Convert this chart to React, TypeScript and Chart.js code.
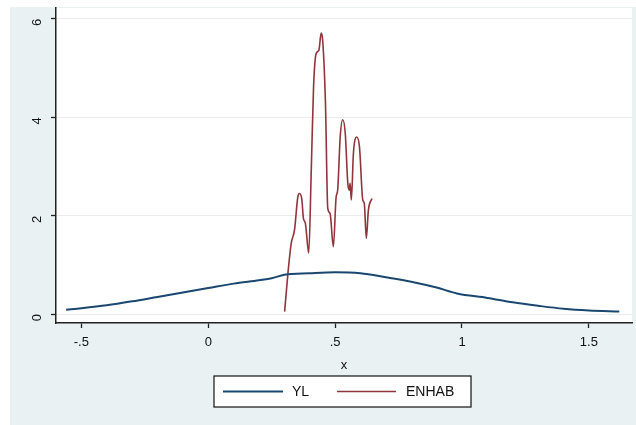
import React, { useEffect, useRef } from "react";
import { Chart, registerables } from "chart.js";

Chart.register(...registerables);

const ylX = [-0.56, -0.5, -0.4, -0.3, -0.2, -0.1, 0, 0.1, 0.2, 0.25, 0.3, 0.4, 0.5, 0.6, 0.7, 0.8, 0.9, 0.98, 1.1, 1.2, 1.3, 1.4, 1.5, 1.62];
const ylY = [0.09, 0.12, 0.18, 0.26, 0.35, 0.44, 0.53, 0.62, 0.69, 0.73, 0.8, 0.83, 0.85, 0.83, 0.75, 0.66, 0.54, 0.42, 0.33, 0.24, 0.17, 0.11, 0.075, 0.055];

const enhabX = [0.301, 0.314, 0.327, 0.34, 0.353, 0.36, 0.369, 0.375, 0.383, 0.396, 0.406, 0.415, 0.425, 0.436, 0.445, 0.451, 0.462, 0.471, 0.48, 0.493, 0.504, 0.51, 0.52, 0.53, 0.54, 0.55, 0.556, 0.559, 0.564, 0.572, 0.585, 0.596, 0.609, 0.615, 0.623, 0.631, 0.645];
const enhabY = [0.05, 0.83, 1.44, 1.71, 2.38, 2.45, 2.32, 1.95, 1.84, 1.24, 2.93, 4.61, 5.29, 5.36, 5.71, 5.56, 4.28, 2.15, 2.05, 1.37, 2.38, 2.52, 3.6, 3.95, 3.67, 2.66, 2.52, 2.66, 2.32, 3.26, 3.6, 3.4, 2.32, 2.25, 1.54, 2.11, 2.35];

const seriesNames = ["YL", "ENHAB"];
const seriesColors = ["#1a476f", "#90353b"];
const xTicks = [-0.5, 0, 0.5, 1, 1.5];
const yTicks = [0, 2, 4, 6];

const fmt = (v: number) => {
  const s = String(v);
  if (s.startsWith("0.")) return s.slice(1);
  if (s.startsWith("-0.")) return "-" + s.slice(2);
  return s;
};

const FONT = "'Liberation Sans', Arial, sans-serif";
const BG = "#e9f1f3";

export default function App() {
  const ref = useRef<HTMLCanvasElement | null>(null);
  useEffect(() => {
    document.body.style.margin = "0";
    const bgPlugin = {
      id: "bgPlugin",
      beforeDraw(chart: any) {
        const { ctx, chartArea } = chart;
        ctx.save();
        ctx.fillStyle = "#ffffff";
        ctx.fillRect(0, 0, chart.width, chart.height);
        ctx.fillStyle = BG;
        ctx.fillRect(10, 7, chart.width - 10, chart.height - 7);
        ctx.fillStyle = "#ffffff";
        ctx.fillRect(chartArea.left, chartArea.top, chartArea.right - chartArea.left, chartArea.bottom - chartArea.top);
        ctx.restore();
      },
    };
    const legendPlugin = {
      id: "boxLegend",
      afterDraw(chart: any) {
        const { ctx } = chart;
        const bx = 214, by = 376, bw = 257, bh = 31;
        ctx.save();
        ctx.fillStyle = "#ffffff";
        ctx.fillRect(bx, by, bw, bh);
        ctx.strokeStyle = "#111";
        ctx.lineWidth = 1.2;
        ctx.strokeRect(bx, by, bw, bh);
        const items = [
          { x0: 223, x1: 283, tx: 292 },
          { x0: 337, x1: 396, tx: 406 },
        ];
        chart.data.datasets.forEach((ds: any, i: number) => {
          const it = items[i];
          const cy = by + bh / 2;
          ctx.strokeStyle = ds.borderColor;
          ctx.lineWidth = ds.borderWidth;
          ctx.beginPath();
          ctx.moveTo(it.x0, cy);
          ctx.lineTo(it.x1, cy);
          ctx.stroke();
          ctx.fillStyle = "#111";
          ctx.font = `14px ${FONT}`;
          ctx.textBaseline = "middle";
          ctx.textAlign = "left";
          ctx.fillText(ds.label, it.tx, cy + 1);
        });
        ctx.restore();
      },
    };
    const chart = new Chart(ref.current!, {
      type: "line",
      data: {
        datasets: [
          {
            label: seriesNames[0],
            data: ylX.map((x, i) => ({ x, y: ylY[i] })),
            borderColor: seriesColors[0],
            borderWidth: 2,
            pointRadius: 0,
            cubicInterpolationMode: "monotone",
            fill: false,
          },
          {
            label: seriesNames[1],
            data: enhabX.map((x, i) => ({ x, y: enhabY[i] })),
            borderColor: seriesColors[1],
            borderWidth: 1.6,
            pointRadius: 0,
            cubicInterpolationMode: "monotone",
            fill: false,
          },
        ],
      },
      options: {
        animation: false,
        responsive: false,
        layout: { padding: { top: 8, right: 4, left: 0, bottom: 0 } },
        plugins: { legend: { display: false }, tooltip: { enabled: false } },
        scales: {
          x: {
            type: "linear",
            min: -0.6,
            max: 1.67,
            afterBuildTicks: (s: any) => {
              s.ticks = xTicks.map((v) => ({ value: v }));
            },
            afterFit: (s: any) => {
              s.height = 102;
              s.paddingLeft = 0;
              s.paddingRight = 0;
            },
            ticks: {
              callback: (v: any) => fmt(Number(v)),
              color: "#111",
              font: { family: FONT, size: 13 },
              padding: 7,
              maxRotation: 0,
            },
            grid: { drawOnChartArea: false, tickLength: 5, tickColor: "#222", tickWidth: 1.3 },
            border: { color: "#222", width: 1.5 },
            title: { display: true, text: "x", color: "#111", font: { family: FONT, size: 13 }, padding: { top: 0, bottom: 52 } },
          },
          y: {
            type: "linear",
            min: -0.18,
            max: 6.22,
            afterBuildTicks: (s: any) => {
              s.ticks = yTicks.map((v) => ({ value: v }));
            },
            afterFit: (s: any) => {
              s.width = 56;
              s.paddingTop = 0;
              s.paddingBottom = 0;
            },
            ticks: {
              callback: (v: any) => fmt(Number(v)),
              color: "#111",
              font: { family: FONT, size: 13 },
              padding: 14,
              minRotation: 90,
              maxRotation: 90,
            },
            grid: { color: "#ececec", lineWidth: 1, tickLength: 5, tickColor: "#222", tickWidth: 1.3 },
            border: { color: "#222", width: 1.5 },
          },
        },
      },
      plugins: [bgPlugin, legendPlugin],
    } as any);
    return () => chart.destroy();
  }, []);
  return (
    <div style={{ width: 636, height: 425 }}>
      <canvas ref={ref} width={636} height={425} style={{ display: "block" }} />
    </div>
  );
}
